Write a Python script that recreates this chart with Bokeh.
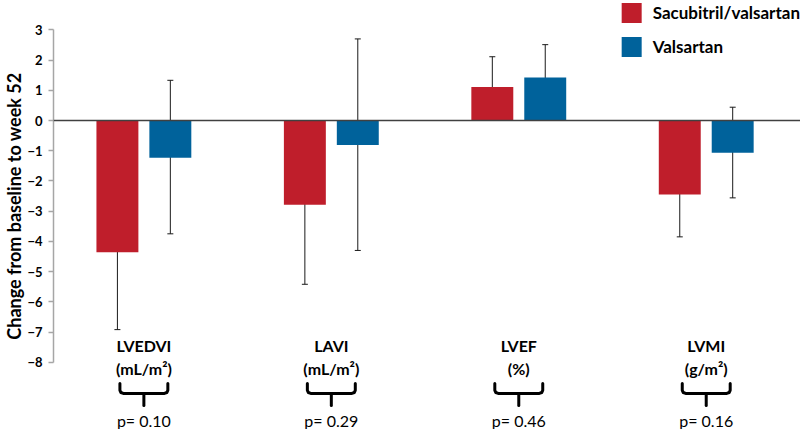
from bokeh.plotting import figure
from bokeh.models import Range1d, FixedTicker, Span, Whisker, TeeHead, ColumnDataSource, Title
from bokeh.core.properties import value
from bokeh.embed import file_html
from bokeh.resources import INLINE

# ---- data ----
measures = ["LVEDVI", "LAVI", "LVEF", "LVMI"]
units = ["(mL/m²)", "(mL/m²)", "(%)", "(g/m²)"]
p_values = ["p= 0.10", "p= 0.29", "p= 0.46", "p= 0.16"]
series_names = ["Sacubitril/valsartan", "Valsartan"]
y_title = "Change from baseline to week 52"

sv_mean = [-4.36, -2.79, 1.11, -2.45]
sv_lower = [-6.92, -5.42, 0.16, -3.85]
sv_upper = [-1.83, -0.20, 2.11, -1.02]

val_mean = [-1.23, -0.81, 1.42, -1.07]
val_lower = [-3.75, -4.30, 0.34, -2.56]
val_upper = [1.33, 2.70, 2.51, 0.44]

y_ticks = [-8, -7, -6, -5, -4, -3, -2, -1, 0, 1, 2, 3]

# ---- style / layout ----
RED = "#BF1E2B"
BLUE = "#00629B"
FONT = "Lato"

W, H = 800, 429
FRAME_LEFT = 52          # expected left edge of the plotting frame, px
GROUP_PX = 187.7         # px between group centres
FIRST_CENTRE = 142.5     # px position of first group centre
X0 = -(FIRST_CENTRE - FRAME_LEFT) / GROUP_PX
X1 = (W - FIRST_CENTRE) / GROUP_PX

p = figure(width=W, height=H, output_backend="svg", toolbar_location=None,
           x_axis_type=None,
           x_range=Range1d(X0, X1), y_range=Range1d(-10.225, 3.971),
           min_border_left=0, min_border_right=0, min_border_top=0, min_border_bottom=0)
p.outline_line_color = None
p.grid.visible = False
p.background_fill_color = "white"

ax = p.yaxis[0]
ax.ticker = FixedTicker(ticks=y_ticks)
ax.bounds = (min(y_ticks), max(y_ticks))
ax.axis_line_color = "#A6A6A6"
ax.axis_line_width = 1.5
ax.major_tick_line_color = "#A6A6A6"
ax.major_tick_line_width = 1.5
ax.major_tick_out = 5
ax.major_tick_in = 0
ax.minor_tick_line_color = None
ax.major_label_text_font = FONT
ax.major_label_text_font_style = "bold"
ax.major_label_text_font_size = "13px"
ax.major_label_text_color = "black"
ax.major_label_standoff = 6

# axis title on the left
p.add_layout(Title(text=y_title, align="right", offset=72, standoff=0,
                   text_font=FONT, text_font_style="bold", text_font_size="18px",
                   text_color="black"), "left")

idx = list(range(len(measures)))
off = 26.5 / GROUP_PX
bw = 42 / GROUP_PX

sv_src = ColumnDataSource(dict(x=[i - off for i in idx], top=sv_mean, lower=sv_lower, upper=sv_upper))
val_src = ColumnDataSource(dict(x=[i + off for i in idx], top=val_mean, lower=val_lower, upper=val_upper))

p.vbar(x="x", top="top", bottom=0, width=bw, source=sv_src, fill_color=RED, line_color=None,
       legend_label=series_names[0])
p.vbar(x="x", top="top", bottom=0, width=bw, source=val_src, fill_color=BLUE, line_color=None,
       legend_label=series_names[1])

p.add_layout(Span(location=0, dimension="width", line_color="#404040", line_width=1.5))

for src in (sv_src, val_src):
    p.add_layout(Whisker(base="x", upper="upper", lower="lower", source=src, dimension="height",
                         line_color="#1a1a1a", line_width=1,
                         upper_head=TeeHead(size=6, line_color="#1a1a1a", line_width=1),
                         lower_head=TeeHead(size=6, line_color="#1a1a1a", line_width=1)))

# ---- category labels, braces and p-values below the bars ----
y_name = -7.45
y_unit = -8.21
y_brace_top = -8.70
y_brace_bot = -9.03
y_stem = -9.43
y_p = -9.93

p.text(x=idx, y=[y_name] * len(idx), text=measures, text_align="center", text_baseline="middle",
       text_font=value(FONT), text_font_style="bold", text_font_size="16px", text_color="black")
p.text(x=idx, y=[y_unit] * len(idx), text=units, text_align="center", text_baseline="middle",
       text_font=value(FONT), text_font_style="bold", text_font_size="16px", text_color="black")
p.text(x=idx, y=[y_p] * len(idx), text=p_values, text_align="center", text_baseline="middle",
       text_font=value(FONT), text_font_size="16px", text_color="black")

half = 24 / GROUP_PX
r = 0.018
ry = 0.10
xs, ys = [], []
for i in idx:
    xs.append([i - half, i - half, i - half + r * 0.3, i - half + r, i + half - r, i + half - r * 0.3, i + half, i + half])
    ys.append([y_brace_top, y_brace_bot + ry, y_brace_bot + ry * 0.3, y_brace_bot, y_brace_bot, y_brace_bot + ry * 0.3, y_brace_bot + ry, y_brace_top])
    xs.append([i, i])
    ys.append([y_brace_bot, y_stem])
p.multi_line(xs=xs, ys=ys, line_color="black", line_width=3, line_join="round", line_cap="round")

# ---- legend ----
lg = p.legend[0]
lg.location = "top_right"
lg.margin = 0
lg.padding = 0
lg.spacing = 9
lg.glyph_width = 25
lg.glyph_height = 25
lg.label_height = 25
lg.label_standoff = 9
lg.border_line_color = None
lg.background_fill_alpha = 0
lg.label_text_font = FONT
lg.label_text_font_style = "bold"
lg.label_text_font_size = "17px"
lg.label_text_color = "black"

open("out.html", "w").write(file_html(p, INLINE))
